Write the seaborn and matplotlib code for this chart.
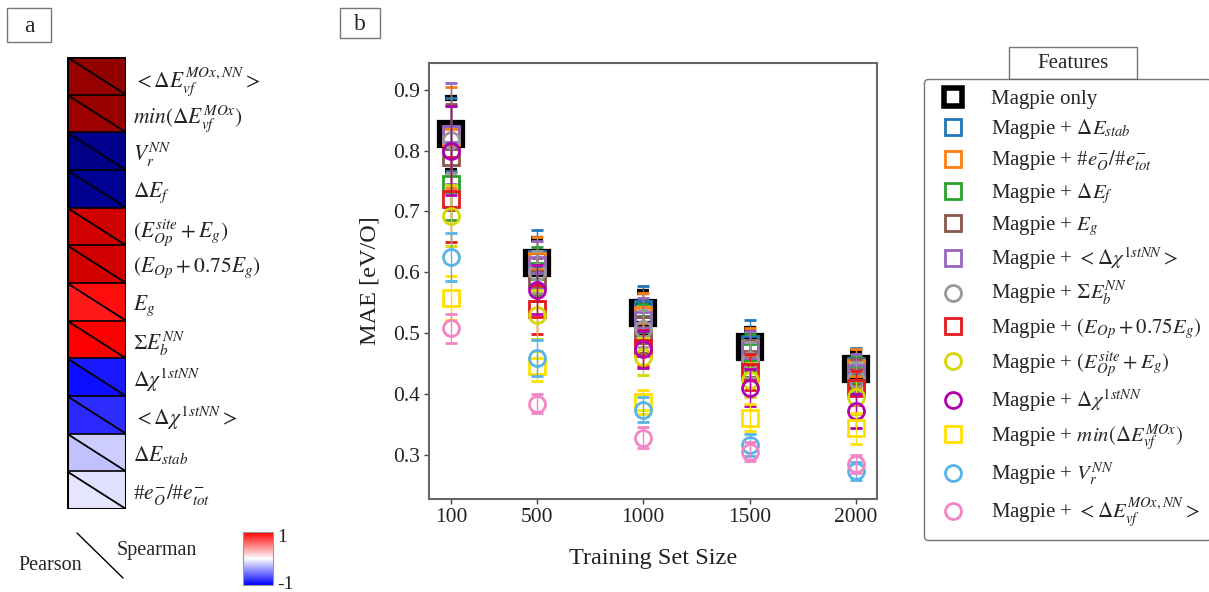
import numpy as np
import pandas as pd
import matplotlib
matplotlib.use("Agg")
import matplotlib.pyplot as plt
import seaborn as sns
from matplotlib.patches import Polygon, Rectangle
from matplotlib.lines import Line2D
from matplotlib.colors import Normalize
from matplotlib.cm import ScalarMappable

# ---------------- data ----------------
# panel a: correlation of each feature with the target (Pearson / Spearman)
feature_labels = [
    r"$<\Delta E_{vf}^{MOx,NN}>$",
    r"$min(\Delta E_{vf}^{MOx})$",
    r"$V_r^{NN}$",
    r"$\Delta E_f$",
    r"$(E_{Op}^{site}+E_g)$",
    r"$(E_{Op}+0.75E_g)$",
    r"$E_g$",
    r"$\Sigma E_b^{NN}$",
    r"$\Delta\chi^{1stNN}$",
    r"$<\Delta\chi^{1stNN}>$",
    r"$\Delta E_{stab}$",
    r"#$e_O^{-}/$#$e_{tot}^{-}$",
]
pearson = [0.91, 0.89, -0.83, -0.81, 0.68, 0.67, 0.45, 0.52, -0.47, -0.42, -0.12, -0.05]
spearman = [0.92, 0.90, -0.82, -0.80, 0.69, 0.68, 0.47, 0.51, -0.45, -0.41, -0.10, -0.06]

# panel b: learning curves (MAE vs training set size)
train_sizes = [100, 500, 1000, 1500, 2000]
series_labels = [
    "Magpie only",
    r"Magpie + $\Delta E_{stab}$",
    r"Magpie + #$e_O^{-}/$#$e_{tot}^{-}$",
    r"Magpie + $\Delta E_f$",
    r"Magpie + $E_g$",
    r"Magpie + $<\Delta\chi^{1stNN}>$",
    r"Magpie + $\Sigma E_b^{NN}$",
    r"Magpie + $(E_{Op}+0.75E_g)$",
    r"Magpie + $(E_{Op}^{site}+E_g)$",
    r"Magpie + $\Delta\chi^{1stNN}$",
    r"Magpie + $min(\Delta E_{vf}^{MOx})$",
    r"Magpie + $V_r^{NN}$",
    r"Magpie + $<\Delta E_{vf}^{MOx,NN}>$",
]
mae_magpie = [0.827, 0.615, 0.533, 0.477, 0.440]
mae_dE_stab = [0.826, 0.622, 0.540, 0.482, 0.445]
mae_e_ratio = [0.822, 0.618, 0.530, 0.474, 0.442]
mae_dE_f = [0.745, 0.602, 0.515, 0.468, 0.432]
mae_E_g = [0.790, 0.588, 0.497, 0.458, 0.428]
mae_chi_mean = [0.828, 0.612, 0.522, 0.472, 0.435]
mae_Eb_sum = [0.818, 0.600, 0.507, 0.456, 0.425]
mae_EOp_075 = [0.720, 0.539, 0.475, 0.436, 0.410]
mae_EOp_site = [0.693, 0.530, 0.461, 0.422, 0.394]
mae_chi_1st = [0.800, 0.571, 0.473, 0.410, 0.372]
mae_min_Evf = [0.558, 0.446, 0.386, 0.361, 0.343]
mae_V_r = [0.625, 0.459, 0.374, 0.316, 0.273]
mae_Evf_mean = [0.508, 0.384, 0.328, 0.305, 0.285]

err_magpie = [0.060, 0.040, 0.035, 0.030, 0.028]
err_dE_stab = [0.060, 0.048, 0.038, 0.040, 0.030]
err_e_ratio = [0.083, 0.040, 0.035, 0.035, 0.032]
err_dE_f = [0.060, 0.040, 0.032, 0.030, 0.030]
err_E_g = [0.087, 0.035, 0.030, 0.030, 0.030]
err_chi_mean = [0.083, 0.040, 0.035, 0.032, 0.030]
err_Eb_sum = [0.055, 0.035, 0.030, 0.030, 0.028]
err_EOp_075 = [0.070, 0.040, 0.030, 0.030, 0.028]
err_EOp_site = [0.050, 0.040, 0.030, 0.028, 0.028]
err_chi_1st = [0.073, 0.040, 0.030, 0.030, 0.028]
err_min_Evf = [0.036, 0.025, 0.020, 0.022, 0.025]
err_V_r = [0.039, 0.030, 0.020, 0.018, 0.015]
err_Evf_mean = [0.024, 0.016, 0.017, 0.015, 0.015]

mae_series = [mae_magpie, mae_dE_stab, mae_e_ratio, mae_dE_f, mae_E_g, mae_chi_mean,
              mae_Eb_sum, mae_EOp_075, mae_EOp_site, mae_chi_1st, mae_min_Evf,
              mae_V_r, mae_Evf_mean]
err_series = [err_magpie, err_dE_stab, err_e_ratio, err_dE_f, err_E_g, err_chi_mean,
              err_Eb_sum, err_EOp_075, err_EOp_site, err_chi_1st, err_min_Evf,
              err_V_r, err_Evf_mean]

colors = ["black", "#1f77b4", "#ff7f0e", "#2ca02c", "#8c564b", "#9467bd", "#999999",
          "#e41a1c", "#d6d600", "#b000b0", "#ffe000", "#56b4e9", "#f286c4"]
markers = ["s", "s", "s", "s", "s", "s", "o", "s", "o", "o", "s", "o", "o"]

# ---------------- style ----------------
sns.set_theme(style="white")
plt.rcParams["font.family"] = ["Liberation Serif", "DejaVu Serif"]
plt.rcParams["mathtext.fontset"] = "stix"

W, H = 1209, 592
fig = plt.figure(figsize=(W / 100, H / 100), dpi=100)


def fx(px):
    return px / W


def fy(py):
    return 1 - py / H


# ---------------- panel a ----------------
ax_h = fig.add_axes([fx(67), fy(509), fx(126) - fx(67), fy(57) - fy(509)])
df_corr = pd.DataFrame({"r": pearson}, index=feature_labels)
sns.heatmap(df_corr, ax=ax_h, cmap="seismic", vmin=-1, vmax=1, cbar=False,
            linewidths=0, xticklabels=False, yticklabels=True)
cmap_cells = plt.get_cmap("seismic")
norm = Normalize(-1, 1)
n = len(feature_labels)
for i in range(n):
    # upper-right triangle carries the Spearman coefficient
    ax_h.add_patch(Polygon([(0, i), (1, i), (1, i + 1)], closed=True,
                           fc=cmap_cells(norm(spearman[i])), ec="none"))
    ax_h.plot([0, 1], [i, i + 1], color="black", lw=1.3)
    ax_h.plot([0, 1], [i, i], color="black", lw=1.2)
ax_h.add_patch(Rectangle((0, 0), 1, n, fill=False, ec="black", lw=2.2))
ax_h.set_xlim(0, 1)
ax_h.set_ylim(n, 0)
ax_h.yaxis.tick_right()
ax_h.tick_params(axis="y", length=0, pad=5, labelsize=15.5, rotation=0,
                 labelright=True, labelleft=False)
ax_h.set_ylabel("")
for lab in ax_h.get_yticklabels():
    lab.set_rotation(0)
    lab.set_color("#222222")

# colour scale
cax = fig.add_axes([fx(243), fy(585), fx(273) - fx(243), fy(532) - fy(585)])
cb = fig.colorbar(ScalarMappable(norm=norm, cmap="bwr"), cax=cax, ticks=[-0.9, 0.85])
cb.ax.set_yticklabels(["-1", "1"])
cb.ax.tick_params(length=0, labelsize=14, pad=3)
cb.outline.set_edgecolor("#999999")
cb.outline.set_linewidth(0.8)

# Pearson / Spearman key
fig.add_artist(Line2D([fx(77), fx(123)], [fy(533), fy(578)], color="black", lw=1.0))
fig.text(fx(117), fy(551), "Spearman", fontsize=14.5, ha="left", va="center")
fig.text(fx(18), fy(566), "Pearson", fontsize=14.5, ha="left", va="center")

# panel tags
for (x0, y0, x1, y1, tag) in [(7, 8, 51, 42, "a"), (340, 8, 380, 38, "b")]:
    fig.add_artist(Rectangle((fx(x0), fy(y1)), fx(x1) - fx(x0), fy(y0) - fy(y1),
                             transform=fig.transFigure, fill=False, ec="#777777", lw=1.0))
    fig.text(fx((x0 + x1) / 2), fy((y0 + y1) / 2 + 1), tag, fontsize=17,
             ha="center", va="center")

# ---------------- panel b ----------------
ax_b = fig.add_axes([fx(429), fy(499), fx(877) - fx(429), fy(63) - fy(499)])
for k, (lab, ys, es) in enumerate(zip(series_labels, mae_series, err_series)):
    if k == 0:
        ms, mew = 16, 4.5
    else:
        ms, mew = 11.5, 2.0
    ax_b.errorbar(train_sizes, ys, yerr=es, fmt=markers[k], ms=ms, mfc="none",
                  mec=colors[k], mew=mew, ecolor=colors[k], elinewidth=1.0,
                  capsize=4.5, capthick=1.2, label=lab, zorder=2 + k * 0.1)

ax_b.set_xlim(-5, 2098)
ax_b.set_ylim(0.227, 0.944)
ax_b.set_xticks(train_sizes)
ax_b.set_xticklabels([str(s) for s in train_sizes])
ax_b.set_yticks([0.3, 0.4, 0.5, 0.6, 0.7, 0.8, 0.9])
ax_b.tick_params(axis="both", labelsize=15.5, length=3.5, width=1.0, pad=3,
                 direction="out", bottom=True, left=True, colors="#444444",
                 labelcolor="#222222")
for sp in ax_b.spines.values():
    sp.set_visible(True)
    sp.set_color("#666666")
    sp.set_linewidth(1.5)
ax_b.set_xlabel("Training Set Size", fontsize=17.5, labelpad=15, color="#222222")
ax_b.set_ylabel("MAE [eV/O]", fontsize=17.5, labelpad=9, color="#222222")

# legend with marker-only handles
handles = []
for k in range(len(series_labels)):
    if k == 0:
        h = Line2D([], [], ls="none", marker="s", ms=13, mfc="none", mec="black", mew=4)
    else:
        h = Line2D([], [], ls="none", marker=markers[k], ms=11.5, mfc="none",
                   mec=colors[k], mew=2)
    handles.append(h)
leg = fig.legend(handles, series_labels, loc="upper left",
                 bbox_to_anchor=(fx(924), fy(79)), bbox_transform=fig.transFigure,
                 fontsize=15, frameon=True, fancybox=True, edgecolor="#555555",
                 borderaxespad=0, handlelength=1.8, handletextpad=0.9,
                 labelspacing=0.38, borderpad=0.5)
leg.get_frame().set_linewidth(1.0)

# legend title box
fig.add_artist(Rectangle((fx(1009), fy(79)), fx(1137) - fx(1009), fy(47) - fy(79),
                         transform=fig.transFigure, fill=True, fc="white",
                         ec="#777777", lw=1.0))
fig.text(fx(1073), fy(63), "Features", fontsize=15, ha="center", va="center")

fig.savefig("out.png", dpi=100)
